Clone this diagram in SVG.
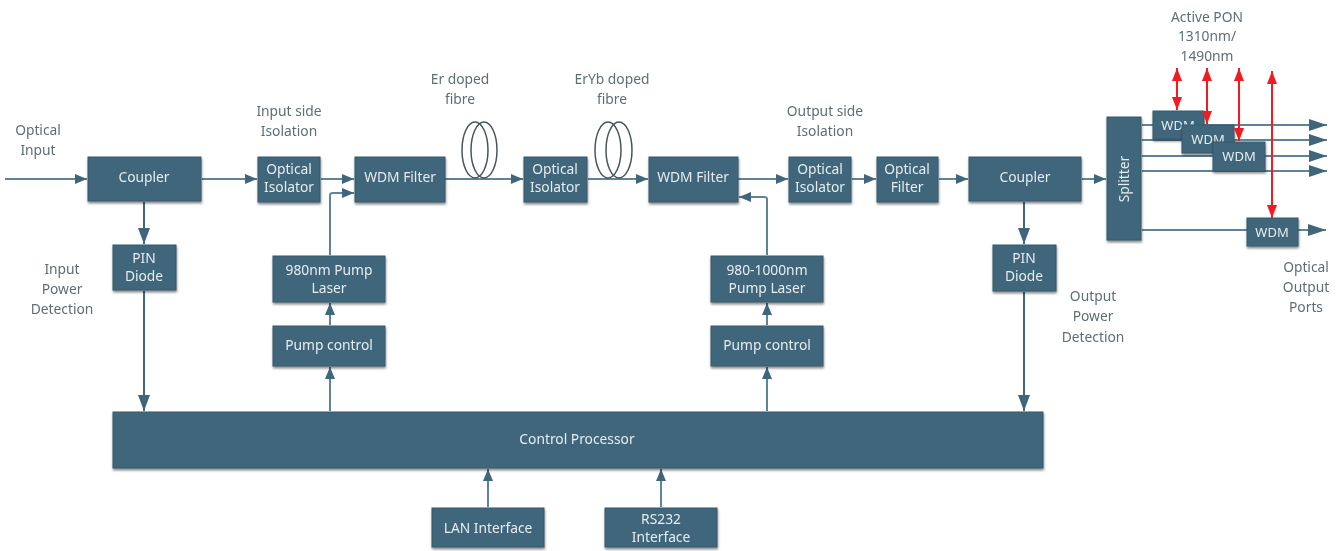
<svg xmlns="http://www.w3.org/2000/svg" width="1343" height="551" viewBox="0 0 1343 551">
<style>
text{font-family:"Noto Sans","Open Sans","Liberation Sans",sans-serif;font-size:13.8px;text-anchor:middle}
.n rect{fill:#40667c;stroke:#34566a;stroke-width:1;filter:url(#sh)}
.n text{fill:#e6ecef}
.l{fill:#5f6d74}
.c path{fill:none;stroke:#5f8398;stroke-width:2;marker-end:url(#a)}
.c path.d{stroke:#40667c;marker-end:url(#b)}
.c path.o{marker-end:url(#o)}
.c path.r{stroke:#f01c24;stroke-width:2;marker-start:url(#rs);marker-end:url(#r)}
.f ellipse{fill:none;stroke:#46555d;stroke-width:1.5}
</style>
<defs>
<filter id="sh" x="-10%" y="-10%" width="120%" height="125%"><feDropShadow dx="0.5" dy="2" stdDeviation="1.2" flood-color="#000" flood-opacity=".45"/></filter>
<filter id="soft" filterUnits="userSpaceOnUse" x="0" y="0" width="1343" height="551"><feGaussianBlur stdDeviation="0.45"/></filter>
<marker id="a" markerUnits="userSpaceOnUse" markerWidth="14" markerHeight="12" refX="12" refY="6" orient="auto"><path d="M0 1L12 6L0 11Z" fill="#40667c"/></marker>
<marker id="b" markerUnits="userSpaceOnUse" markerWidth="18" markerHeight="14" refX="16" refY="7" orient="auto"><path d="M0 1L16 7L0 13Z" fill="#40667c"/></marker>
<marker id="o" markerUnits="userSpaceOnUse" markerWidth="20" markerHeight="14" refX="18" refY="7" orient="auto"><path d="M0 1L18 7L0 13Z" fill="#40667c"/></marker>
<marker id="r" markerUnits="userSpaceOnUse" markerWidth="14" markerHeight="12" refX="13" refY="5" orient="auto"><path d="M0 0L13 5L0 10Z" fill="#f01c24"/></marker>
<marker id="rs" markerUnits="userSpaceOnUse" markerWidth="14" markerHeight="12" refX="0" refY="5" orient="auto"><path d="M13 0L0 5L13 10Z" fill="#f01c24"/></marker>
</defs>
<rect width="1343" height="551" fill="#fff"/>
<g filter="url(#soft)">
<g id="connectors" class="c">
<path d="M5 179H87"/><path d="M202 179H257"/><path d="M321 179H354"/><path d="M445 179H523"/><path d="M588 179H648"/><path d="M738 179H788"/><path d="M852 179H876"/><path d="M939 179H968"/><path d="M1082 179H1106"/>
<path class="d" d="M144 202V244"/><path d="M330 255V195Q330 193 333 193H354"/><path d="M330 325V303"/><path d="M330 411V367"/>
<path d="M767 255V199Q767 197 764 197H739"/><path d="M767 325V303"/><path d="M767 411V367"/>
<path class="d" d="M1024 202V244"/><path class="d" d="M144 291V411"/><path class="d" d="M1024 292V411"/>
<path d="M488 507V469"/><path d="M661 507V469"/>
<path class="o" d="M1142 125H1327"/><path class="o" d="M1142 140H1327"/><path class="o" d="M1142 156H1327"/><path class="o" d="M1142 171H1327"/><path class="o" d="M1142 230H1326"/>
</g>
<g id="fibre1" class="f"><ellipse cx="475" cy="150" rx="13" ry="28"/><ellipse cx="484" cy="150" rx="13" ry="28"/></g>
<g id="fibre2" class="f"><ellipse cx="608" cy="150" rx="13" ry="28"/><ellipse cx="619" cy="150" rx="13" ry="28"/></g>
<g id="coupler1" class="n"><rect x="88" y="157" width="113" height="44"/><text x="144" y="182">Coupler</text></g>
<g id="isolator1" class="n"><rect x="258" y="157" width="62" height="45"/><text x="289" y="174">Optical</text><text x="289" y="192">Isolator</text></g>
<g id="wdmfilter1" class="n"><rect x="355" y="157" width="90" height="45"/><text x="400" y="182">WDM Filter</text></g>
<g id="pin1" class="n"><rect x="113" y="245" width="63" height="45"/><text x="144" y="263">PIN</text><text x="144" y="281">Diode</text></g>
<g id="pump980" class="n"><rect x="273" y="256" width="112" height="46"/><text x="329" y="275">980nm Pump</text><text x="329" y="293">Laser</text></g>
<g id="pumpctl1" class="n"><rect x="273" y="326" width="112" height="40"/><text x="329" y="350">Pump control</text></g>
<g id="isolator2" class="n"><rect x="524" y="157" width="63" height="45"/><text x="555" y="174">Optical</text><text x="555" y="192">Isolator</text></g>
<g id="wdmfilter2" class="n"><rect x="649" y="157" width="89" height="45"/><text x="693" y="182">WDM Filter</text></g>
<g id="isolator3" class="n"><rect x="789" y="157" width="62" height="45"/><text x="820" y="174">Optical</text><text x="820" y="192">Isolator</text></g>
<g id="filter" class="n"><rect x="877" y="157" width="61" height="45"/><text x="907" y="174">Optical</text><text x="907" y="192">Filter</text></g>
<g id="coupler2" class="n"><rect x="969" y="157" width="112" height="44"/><text x="1025" y="182">Coupler</text></g>
<g id="pin2" class="n"><rect x="993" y="245" width="63" height="46"/><text x="1024" y="263">PIN</text><text x="1024" y="281">Diode</text></g>
<g id="pump1000" class="n"><rect x="711" y="256" width="112" height="46"/><text x="767" y="275">980-1000nm</text><text x="767" y="293">Pump Laser</text></g>
<g id="pumpctl2" class="n"><rect x="711" y="326" width="112" height="40"/><text x="767" y="350">Pump control</text></g>
<g id="processor" class="n"><rect x="113" y="412" width="930" height="56"/><text x="577" y="444">Control Processor</text></g>
<g id="lan" class="n"><rect x="432" y="508" width="112" height="39"/><text x="488" y="533">LAN Interface</text></g>
<g id="rs232" class="n"><rect x="605" y="508" width="112" height="39"/><text x="661" y="524">RS232</text><text x="661" y="542">Interface</text></g>
<g id="splitter" class="n"><rect x="1107" y="117" width="34" height="123"/><text transform="translate(1129 179) rotate(-90)">Splitter</text></g>
<g id="wdm1" class="n"><rect x="1153" y="111" width="51" height="28"/><text x="1178" y="130" style="font-size:13px">WDM</text></g>
<g id="wdm2" class="n"><rect x="1182" y="125" width="52" height="28"/><text x="1208" y="144" style="font-size:13px">WDM</text></g>
<g id="wdm3" class="n"><rect x="1213" y="142" width="52" height="29"/><text x="1239" y="161" style="font-size:13px">WDM</text></g>
<g id="wdm4" class="n"><rect x="1247" y="218" width="51" height="28"/><text x="1272" y="237" style="font-size:13px">WDM</text></g>
<g id="redarrows" class="c">
<path class="r" d="M1177 68V110"/><path class="r" d="M1207 68V124"/><path class="r" d="M1239 68V141"/><path class="r" d="M1272 71V218"/>
</g>
<g id="labels" class="l">
<text x="38" y="135">Optical</text><text x="38" y="155">Input</text>
<text x="289" y="116">Input side</text><text x="289" y="136">Isolation</text>
<text x="460" y="84">Er doped</text><text x="460" y="104">fibre</text>
<text x="612" y="84">ErYb doped</text><text x="612" y="104">fibre</text>
<text x="825" y="116">Output side</text><text x="825" y="136">Isolation</text>
<text x="62" y="274">Input</text><text x="62" y="294">Power</text><text x="62" y="314">Detection</text>
<text x="1093" y="301">Output</text><text x="1093" y="321">Power</text><text x="1093" y="342">Detection</text>
<text x="1207" y="22">Active PON</text><text x="1207" y="41">1310nm/</text><text x="1207" y="61">1490nm</text>
<text x="1306" y="272">Optical</text><text x="1306" y="292">Output</text><text x="1306" y="312">Ports</text>
</g>
</g>
</svg>
